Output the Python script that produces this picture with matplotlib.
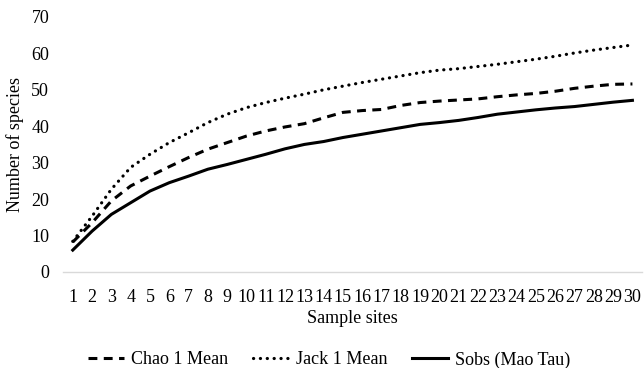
import matplotlib
matplotlib.use('Agg')
import matplotlib.pyplot as plt

sites = list(range(1, 31))
chao1 = [8.2, 13.5, 19.5, 23.6, 26.3, 28.9, 31.4, 33.7, 35.5, 37.3,
         38.7, 39.8, 40.7, 42.3, 43.8, 44.3, 44.6, 45.7, 46.5, 46.9,
         47.2, 47.5, 48.1, 48.6, 49.0, 49.6, 50.4, 51.0, 51.5, 51.6]
jack1 = [8.4, 15.3, 22.7, 28.7, 32.3, 35.5, 38.2, 41.0, 43.3, 45.1,
         46.5, 47.7, 48.8, 50.0, 51.0, 52.0, 52.9, 53.8, 54.7, 55.4,
         55.8, 56.4, 57.0, 57.7, 58.4, 59.2, 60.1, 60.9, 61.6, 62.3]
sobs = [6.0, 11.2, 15.8, 19.0, 22.2, 24.5, 26.3, 28.2, 29.5, 30.9,
        32.3, 33.8, 35.0, 35.8, 36.9, 37.8, 38.7, 39.6, 40.5, 41.0,
        41.6, 42.4, 43.3, 43.9, 44.5, 45.0, 45.4, 46.0, 46.6, 47.1]

plt.rcParams['font.family'] = ['Liberation Serif', 'DejaVu Serif']

fig = plt.figure(figsize=(6.44, 3.68), dpi=100)
ax = fig.add_axes([0.098, 0.261, 0.899, 0.693])

ax.plot(sites, chao1, color='black', lw=2.2, linestyle=(0, (2.9, 2.1)),
        label='Chao 1 Mean')
ax.plot(sites, jack1, color='black', lw=2.3, linestyle=(0, (0.05, 2.1)),
        dash_capstyle='round', label='Jack 1 Mean')
ax.plot(sites, sobs, color='black', lw=2.2, label='Sobs (Mao Tau)')

ax.set_xlim(0.5, 30.5)
ax.set_ylim(0, 70)
ax.set_xticks(sites)
ax.set_xticklabels([str(s) for s in sites])
ax.set_yticks(range(0, 71, 10))
ax.tick_params(length=0, labelsize=13)
ax.tick_params(axis='y', pad=10)
ax.tick_params(axis='x', pad=12)

for side in ['top', 'right', 'left']:
    ax.spines[side].set_visible(False)
ax.spines['bottom'].set_color('#d9d9d9')
ax.spines['bottom'].set_linewidth(1.0)

ax.set_xlabel('Sample sites', fontsize=13, labelpad=3)
ax.set_ylabel('Number of species', fontsize=13, labelpad=5)

fig.legend(loc='center', bbox_to_anchor=(0.511, 0.022), ncol=3, frameon=False,
           fontsize=13, handlelength=2.0, columnspacing=1.35, handletextpad=0.4)

fig.savefig('out.png', dpi=100)
